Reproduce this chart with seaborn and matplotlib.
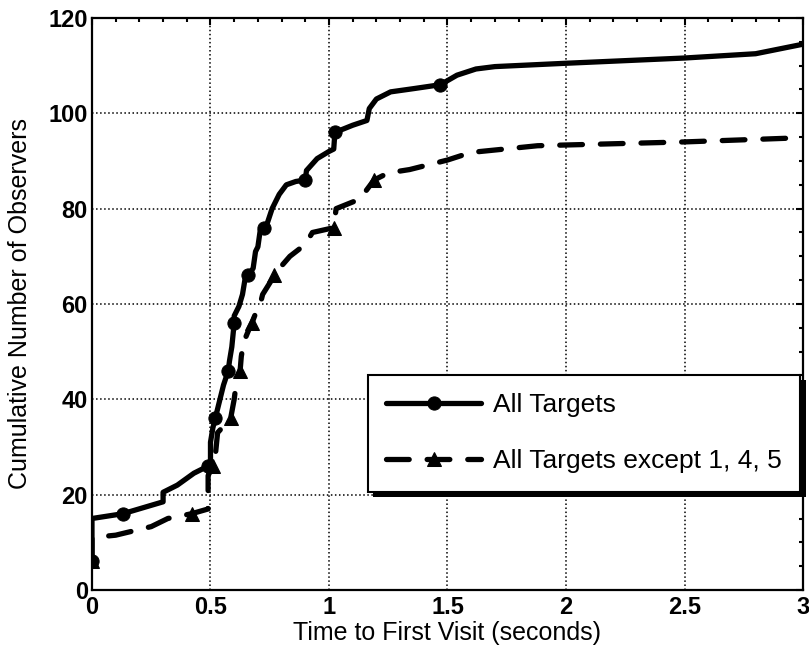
import matplotlib
matplotlib.use("Agg")
import matplotlib.pyplot as plt
import matplotlib.patheffects as pe
from matplotlib.ticker import MultipleLocator
import numpy as np
import pandas as pd
import seaborn as sns

# Cumulative number of observers vs. time to first visit (vertices of each curve)
all_time = [0.00, 0.00, 0.13, 0.30, 0.30, 0.36, 0.43, 0.49, 0.50, 0.50, 0.51, 0.52,
            0.54, 0.555, 0.575, 0.58, 0.59, 0.60, 0.60, 0.62, 0.635, 0.645, 0.66,
            0.68, 0.69, 0.70, 0.71, 0.725, 0.74, 0.76, 0.79, 0.82, 0.86, 0.90,
            0.905, 0.95, 1.00, 1.02, 1.025, 1.10, 1.16, 1.17, 1.20, 1.26, 1.36,
            1.47, 1.54, 1.62, 1.70, 2.00, 2.50, 2.80, 2.90, 3.00]
all_count = [6, 15, 16, 18.5, 20.5, 22, 24.5, 26, 27, 31, 34, 36,
             40, 43, 46, 48, 51, 56, 57.5, 59.5, 62, 65, 66,
             67.5, 71, 72, 75.5, 76, 77, 80, 83, 85, 85.7, 86,
             88, 90.5, 92, 92.5, 96, 97.5, 98.5, 101, 103, 104.5, 105.2,
             106, 108, 109.3, 109.8, 110.5, 111.6, 112.5, 113.5, 114.5]

excl_time = [0.00, 0.00, 0.10, 0.25, 0.32, 0.42, 0.49, 0.49, 0.51, 0.52, 0.53, 0.585,
             0.60, 0.61, 0.625, 0.63, 0.64, 0.665, 0.675, 0.69, 0.71, 0.72, 0.77,
             0.80, 0.835, 0.90, 0.93, 1.02, 1.03, 1.13, 1.16, 1.19, 1.25, 1.34,
             1.50, 1.60, 1.88, 2.50, 2.95]
excl_count = [6, 11, 11.5, 13.3, 15, 16, 17, 24, 26, 28, 33, 36,
              40, 44, 46, 49, 52, 55, 56, 58, 60, 62, 66,
              68, 70, 72.5, 75, 76, 80, 82, 84, 86, 87.5, 88.2,
              90.2, 91.8, 93.2, 94, 94.8]

# A marker every ten observers
marker_levels = [6, 16, 26, 36, 46, 56, 66, 76, 86, 96, 106]

series_labels = ["All Targets", "All Targets except 1, 4, 5"]


def marker_indices(counts):
    idx = []
    for level in marker_levels:
        for i, c in enumerate(counts):
            if c == level:
                idx.append(i)
                break
    return idx


sns.set_style("white")
plt.rcParams["font.family"] = ["Liberation Sans", "DejaVu Sans"]
plt.rcParams["text.color"] = "black"
plt.rcParams["axes.labelcolor"] = "black"
plt.rcParams["xtick.color"] = "black"
plt.rcParams["ytick.color"] = "black"

fig = plt.figure(figsize=(8.09, 6.49), dpi=100)
ax = fig.add_axes([0.1137, 0.0909, 0.8789, 0.8814])

df_all = pd.DataFrame({"t": all_time, "n": all_count})
df_excl = pd.DataFrame({"t": excl_time, "n": excl_count})

sns.lineplot(data=df_all, x="t", y="n", sort=False, estimator=None, ax=ax,
             color="black", linewidth=3.8, marker="o", markersize=9.5,
             markeredgecolor="black", markerfacecolor="black",
             markevery=marker_indices(all_count), label=series_labels[0],
             solid_joinstyle="round", solid_capstyle="round")
sns.lineplot(data=df_excl, x="t", y="n", sort=False, estimator=None, ax=ax,
             color="black", linewidth=3.8, marker="^", markersize=10.5,
             markeredgecolor="black", markerfacecolor="black",
             markevery=marker_indices(excl_count), label=series_labels[1],
             linestyle=(0, (4.3, 3.4)), dash_capstyle="round")

ax.set_xlim(0, 3)
ax.set_ylim(0, 120)
ax.xaxis.set_major_locator(MultipleLocator(0.5))
ax.xaxis.set_minor_locator(MultipleLocator(0.1))
ax.yaxis.set_major_locator(MultipleLocator(20))
ax.yaxis.set_minor_locator(MultipleLocator(5))
ax.set_xticks([0, 0.5, 1, 1.5, 2, 2.5, 3])
ax.set_xticklabels(["0", "0.5", "1", "1.5", "2", "2.5", "3"])

ax.grid(True, which="major", color="black", linestyle=":", linewidth=1.1)
ax.set_axisbelow(True)
for s in ax.spines.values():
    s.set_visible(True)
    s.set_color("black")
    s.set_linewidth(1.6)

ax.tick_params(which="both", direction="in", top=True, right=True,
               color="black", labelcolor="black", width=1.5)
ax.tick_params(which="major", length=5)
ax.tick_params(which="minor", length=3)
ax.tick_params(axis="x", which="major", pad=4, labelsize=17)
ax.tick_params(axis="y", which="major", pad=3, labelsize=17)
for lab in ax.get_xticklabels() + ax.get_yticklabels():
    lab.set_fontweight("bold")

ax.set_xlabel("Time to First Visit (seconds)", fontsize=18, labelpad=2, color="black")
ax.set_ylabel("Cumulative Number of Observers", fontsize=18, labelpad=12, color="black")

leg = ax.legend(loc="upper left", bbox_to_anchor=(0.388, 0.376), fontsize=19,
                frameon=True, fancybox=False, edgecolor="black", framealpha=1,
                handlelength=3.6, handletextpad=0.45, borderpad=0.7,
                labelspacing=1.2, borderaxespad=0, labelcolor="black")
frame = leg.get_frame()
frame.set_linewidth(1.5)
frame.set_path_effects([pe.SimplePatchShadow(offset=(4, -4), shadow_rgbFace="black",
                                             alpha=1.0), pe.Normal()])

fig.savefig("out.png", dpi=100, facecolor="white")
